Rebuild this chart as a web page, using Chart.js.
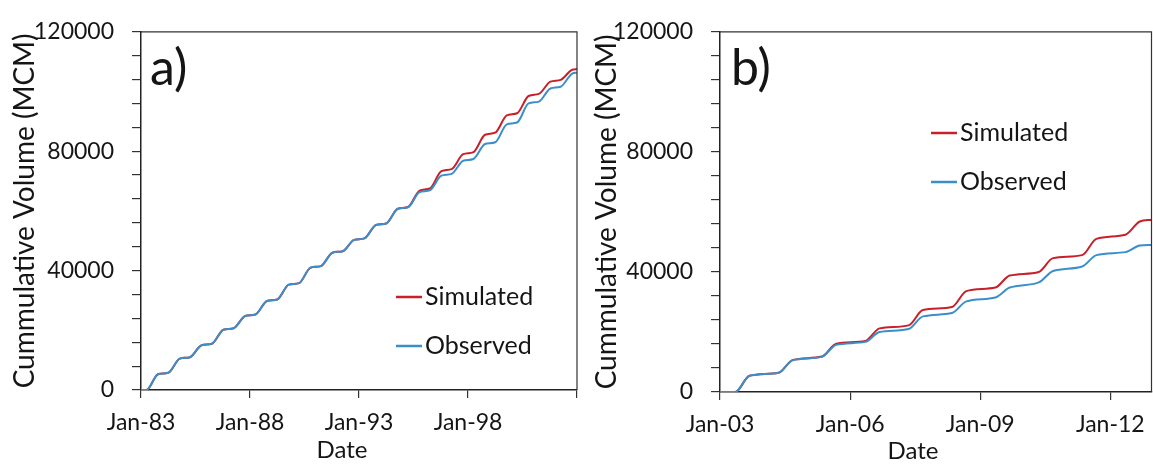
<!DOCTYPE html>
<html><head><meta charset="utf-8">
<script src="https://cdn.jsdelivr.net/npm/chart.js@4.4.0/dist/chart.umd.min.js"></script>
<style>
html,body{margin:0;padding:0;background:#fff;}
#wrap{position:relative;width:1153px;height:468px;overflow:hidden;}
#ca{position:absolute;left:0;top:0;width:580px;height:468px;}
#cb{position:absolute;left:580px;top:0;width:573px;height:468px;}
</style></head><body>
<div id="wrap"><div id="ca"><canvas id="chartA"></canvas></div><div id="cb"><canvas id="chartB"></canvas></div></div>
<script>
// ---------- data ----------
const seriesNames = ['Simulated', 'Observed'];
const panelLabels = ['a)', 'b)'];
const xTitle = 'Date';
const yTitle = 'Cummulative Volume (MCM)';
const yTickLabels = ['0', '40000', '80000', '120000'];
const xTickLabelsA = ['Jan-83', 'Jan-88', 'Jan-93', 'Jan-98'];
const xTickLabelsB = ['Jan-03', 'Jan-06', 'Jan-09', 'Jan-12'];

// Panel a: value at start and end of each year's seasonal rise, 1983–2002
const yearsA = [1983,1984,1985,1986,1987,1988,1989,1990,1991,1992,1993,1994,1995,1996,1997,1998,1999,2000,2001,2002];
const simAStart = [0,5800,11000,15500,20700,25300,30300,35800,41500,46500,50800,55800,61300,67500,74000,79700,86200,92700,99200,103900];
const simAEnd   = [5300,10500,15000,20200,24800,29800,35300,41000,46000,50300,55300,60700,66800,73300,79000,85500,92000,98500,103300,107300];
const obsAStart = [0,5800,11000,15500,20700,25300,30300,35800,41500,46500,50800,55800,61200,66900,72400,77400,83000,89600,96600,101600];
const obsAEnd   = [5300,10500,15000,20200,24800,29800,35300,41000,46000,50300,55300,60700,66300,71800,76800,82400,89000,96000,101000,106000];
const simALast = 107500;
const obsALast = 106300;

// Panel b: value at start and end of each year's seasonal rise, 2003–2012
const yearsB = [2003,2004,2005,2006,2007,2008,2009,2010,2011,2012];
const simBStart = [0,6400,11800,17000,22200,28300,34800,40000,45600,52400];
const simBEnd   = [5400,10700,16100,21200,27300,33600,38800,44600,51000,56800];
const obsBStart = [0,6400,11700,16700,21000,26300,31500,36500,41800,46600];
const obsBEnd   = [5400,10600,15700,20000,25200,30200,34800,40300,45600,48800];
const simBLast = 57400;
const obsBLast = 49000;

// ---------- build point tables ----------
function buildSteps(years, starts, ends, last, riseFrom, riseTo, xEnd) {
  const pts = [{x: 0, y: 0}];
  years.forEach((yr, i) => {
    const t = yr - years[0];
    pts.push({x: t + riseFrom, y: starts[i]});
    pts.push({x: t + riseTo, y: ends[i]});
  });
  pts.push({x: xEnd, y: last});
  return pts;
}

const RED = '#C8202A', BLUE = '#3A8FCB', INK = '#151515';
Chart.defaults.font.family = 'Lato, "Open Sans", sans-serif';
Chart.defaults.color = INK;

const decor = {
  id: 'decor',
  afterDraw(chart, args, o) {
    const ctx = chart.ctx, a = chart.chartArea;
    ctx.save();
    ctx.strokeStyle = '#333'; ctx.lineWidth = 1.2;
    ctx.beginPath();
    ctx.moveTo(a.left, a.top); ctx.lineTo(a.right, a.top); ctx.lineTo(a.right, a.bottom);
    ctx.stroke();
    ctx.fillStyle = INK;
    ctx.font = '50px Lato';
    ctx.textAlign = 'left'; ctx.textBaseline = 'alphabetic';
    ctx.fillText(o.panel, o.panelX, o.panelY);
    ctx.font = '24px Lato';
    ctx.textAlign = 'center'; ctx.textBaseline = 'middle';
    ctx.fillText(xTitle, o.titleX, o.titleY);
    const ds = chart.data.datasets;
    ctx.font = '25px Lato';
    ctx.textAlign = 'left';
    o.legendY.forEach((y, i) => {
      ctx.strokeStyle = ds[i].borderColor; ctx.lineWidth = 2.5;
      ctx.beginPath(); ctx.moveTo(o.legendX, y); ctx.lineTo(o.legendX + 26, y); ctx.stroke();
      ctx.fillText(ds[i].label, o.legendX + 29, y);
    });
    ctx.restore();
  }
};

function makeChart(id, datasets, xMax, xStep, xLabels, includeBounds, layout, fit, dec) {
  return new Chart(document.getElementById(id), {
    type: 'line',
    data: {datasets},
    plugins: [decor],
    options: {
      responsive: true, maintainAspectRatio: false, animation: false,
      layout: {padding: layout},
      elements: {point: {radius: 0}, line: {borderWidth: 2, cubicInterpolationMode: 'monotone'}},
      plugins: {legend: {display: false}, tooltip: {enabled: false}, decor: dec},
      scales: {
        x: {
          type: 'linear', min: 0, max: xMax,
          afterFit: s => { s.height = fit.xh; s.paddingLeft = 0; s.paddingRight = 0; },
          ticks: {stepSize: xStep, includeBounds, autoSkip: false, maxRotation: 0, padding: 11,
                  font: {size: 23}, callback: (v, i) => xLabels[i] ?? ''},
          grid: {display: true, drawOnChartArea: false, drawTicks: true, tickLength: 8, color: '#333', lineWidth: 1.2},
          border: {display: true, color: '#222', width: 1.5}
        },
        y: {
          min: 0, max: 120000,
          afterFit: s => { s.width = fit.yw; },
          ticks: {stepSize: 8000, autoSkip: false, padding: 18, font: {size: 23},
                  callback: v => yTickLabels.find(l => Number(l) === v) ?? ''},
          grid: {display: true, drawOnChartArea: false, drawTicks: true, tickLength: 9, color: '#333', lineWidth: 1.2},
          border: {display: true, color: '#222', width: 1.5},
          title: {display: true, text: yTitle, font: {size: 28}, padding: {top: fit.tp, bottom: 0}}
        }
      }
    }
  });
}

makeChart('chartA', [
  {label: seriesNames[0], data: buildSteps(yearsA, simAStart, simAEnd, simALast, 0.25, 0.78, 20), borderColor: RED, order: 1},
  {label: seriesNames[1], data: buildSteps(yearsA, obsAStart, obsAEnd, obsALast, 0.25, 0.78, 20), borderColor: BLUE, order: 0}
], 20, 5, xTickLabelsA, true,
  {top: 27, right: 3, bottom: 0, left: 0}, {xh: 78, yw: 141, tp: 8},
  {panel: panelLabels[0], panelX: 150, panelY: 85, titleX: 342, titleY: 450, legendX: 396, legendY: [297, 346]});

makeChart('chartB', [
  {label: seriesNames[0], data: buildSteps(yearsB, simBStart, simBEnd, simBLast, 0.35, 0.68, 9.95), borderColor: RED, order: 1},
  {label: seriesNames[1], data: buildSteps(yearsB, obsBStart, obsBEnd, obsBLast, 0.35, 0.68, 9.95), borderColor: BLUE, order: 0}
], 9.95, 3, xTickLabelsB, false,
  {top: 28, right: 1.5, bottom: 0, left: 0}, {xh: 76, yw: 140, tp: 10},
  {panel: panelLabels[1], panelX: 151, panelY: 85, titleX: 333, titleY: 451, legendX: 351, legendY: [133, 182]});
</script>
</body></html>
